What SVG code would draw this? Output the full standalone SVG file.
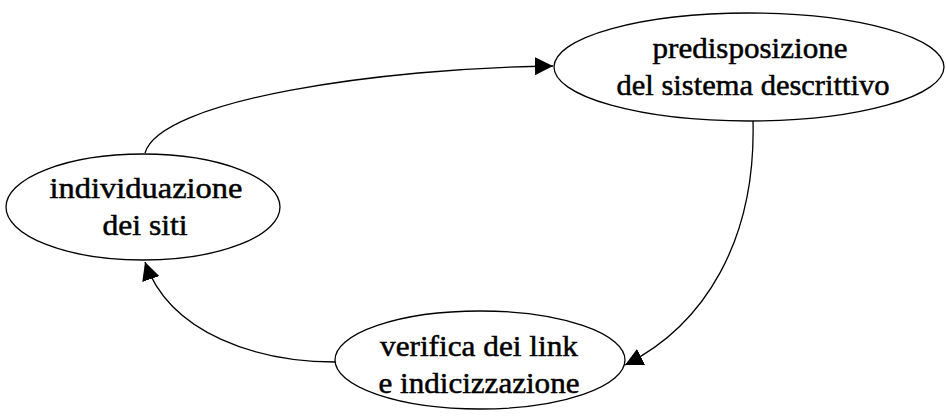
<svg xmlns="http://www.w3.org/2000/svg" width="946" height="417" viewBox="0 0 946 417">
  <style>
    .node ellipse { fill: #ffffff; stroke: #000000; stroke-width: 1.3; }
    .node text { font-family: "Liberation Serif", "DejaVu Serif", serif; font-size: 30px; fill: #000000; stroke: #000000; stroke-width: 0.5; text-anchor: middle; }
    .edge { fill: none; stroke: #000000; stroke-width: 1.3; marker-end: url(#arrow); }
  </style>
  <defs>
    <marker id="arrow" markerWidth="18" markerHeight="18" refX="18" refY="9" orient="auto" markerUnits="userSpaceOnUse">
      <path d="M0,0 L18,9 L0,18 Z" fill="#000000"/>
    </marker>
  </defs>
  <rect width="946" height="417" fill="#ffffff"/>

  <g id="connectors">
    <path class="edge" d="M145,153 C160,100 380,68 553,66"/>
    <path class="edge" d="M753,121 C756,240 705,325 625,365"/>
    <path class="edge" d="M335,362 C260,362 170,335 145,262"/>
  </g>

  <g id="node-individuazione" class="node">
    <ellipse cx="143" cy="207" rx="137" ry="53"/>
    <text x="146" y="198" textLength="193" lengthAdjust="spacingAndGlyphs">individuazione</text>
    <text x="145" y="235" textLength="85" lengthAdjust="spacingAndGlyphs">dei siti</text>
  </g>

  <g id="node-predisposizione" class="node">
    <ellipse cx="749" cy="67" rx="195" ry="54"/>
    <text x="750" y="58" textLength="195" lengthAdjust="spacingAndGlyphs">predisposizione</text>
    <text x="753" y="95" textLength="273" lengthAdjust="spacingAndGlyphs">del sistema descrittivo</text>
  </g>

  <g id="node-verifica" class="node">
    <ellipse cx="480" cy="360" rx="145" ry="49"/>
    <text x="479" y="356" textLength="198" lengthAdjust="spacingAndGlyphs">verifica dei link</text>
    <text x="479" y="393" textLength="201" lengthAdjust="spacingAndGlyphs">e indicizzazione</text>
  </g>
</svg>
